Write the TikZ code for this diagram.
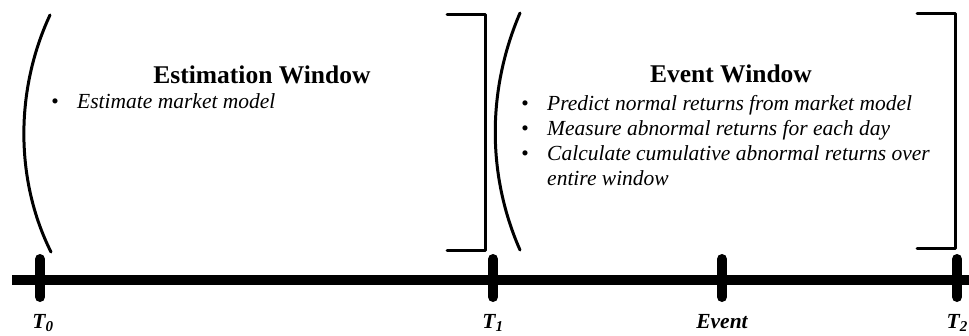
\documentclass[tikz,border=0pt]{standalone}
\usepackage{fontspec}
\setmainfont{Liberation Serif}
\begin{document}
\begin{tikzpicture}[x=1pt, y=-1pt, line cap=round, line join=round,
  brk/.style={line width=3pt},
  axisline/.style={line width=10pt, line cap=butt},
  tickmark/.style={line width=10pt, line cap=round},
  wintitle/.style={font=\bfseries\fontsize{25.5}{30}\selectfont, anchor=base},
  winlist/.style={font=\itshape\fontsize{21.5}{25}\selectfont, anchor=base west, inner sep=0pt},
  ticklabel/.style={font=\bfseries\itshape\fontsize{21.5}{25}\selectfont, anchor=base}]
  \useasboundingbox (0,0) rectangle (969,335);
  % time axis
  \coordinate (start) at (12,280);
  \coordinate (end) at (969,280);
  \coordinate (t0) at (40,280);
  \coordinate (t1) at (493,280);
  \coordinate (ev) at (722,280);
  \coordinate (t2) at (957,280);
  \draw[axisline] (start) -- (end);
  \foreach \c in {t0,t1,ev,t2}
    \draw[tickmark] ([yshift=-17pt]\c) -- ([yshift=21pt]\c);
  \node[ticklabel] (lt0) at (43,328) {T\textsubscript{0}};
  \node[ticklabel] (lt1) at (493,328) {T\textsubscript{1}};
  \node[ticklabel] (lev) at (722,328) {Event};
  \node[ticklabel, anchor=base east, inner xsep=1pt] (lt2) at (969,328) {T\textsubscript{2}};
  % estimation window
  \draw[brk] (50,15) .. controls (15,90) and (15,180) .. (51,252);
  \draw[brk] (447,14) -- (485,14) -- (485,250) -- (447,250);
  \node[wintitle] (esttitle) at (262,83) {Estimation Window};
  \node[winlist] (estlist) at (51,108) {%
    \begin{tabular}[t]{@{}p{26pt}@{}l@{}}
      \textbullet & Estimate market model
    \end{tabular}};
  % event window
  \draw[brk] (520,13) .. controls (487,90) and (487,175) .. (520,250);
  \draw[brk] (917,13) -- (955,13) -- (955,248) -- (917,248);
  \node[wintitle] (evtitle) at (731,82) {Event Window};
  \node[winlist] (evlist) at (521,110) {%
    \begin{tabular}[t]{@{}p{26pt}@{}l@{}}
      \textbullet & Predict normal returns from market model\\
      \textbullet & Measure abnormal returns for each day\\
      \textbullet & Calculate cumulative abnormal returns over\\
                  & entire window
    \end{tabular}};
\end{tikzpicture}
\end{document}
